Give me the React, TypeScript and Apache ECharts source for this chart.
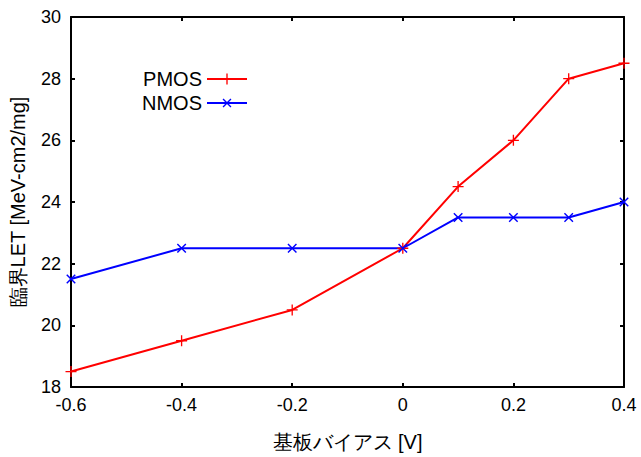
import React, { useEffect, useRef } from "react";
import * as echarts from "echarts";

const xValues = [-0.6, -0.4, -0.2, 0, 0.1, 0.2, 0.3, 0.4];
const pmosValues = [18.5, 19.5, 20.5, 22.5, 24.5, 26, 28, 28.5];
const nmosValues = [21.5, 22.5, 22.5, 22.5, 23.5, 23.5, 23.5, 24];
const seriesNames = ["PMOS", "NMOS"];
const xName = "基板バイアス [V]";
const yName = "臨界LET [MeV-cm2/mg]";

const plus = "path://M4.4,0h1.2v4.4h4.4v1.2h-4.4v4.4h-1.2v-4.4h-4.4v-1.2h4.4z";
const font = "Liberation Sans, Arial, sans-serif";

export default function App() {
  const ref = useRef<HTMLDivElement>(null);
  useEffect(() => {
    if (!ref.current) return;
    const chart = echarts.init(ref.current, null, { renderer: "svg" });
    const fmt = (v: number) => (Math.abs(v) < 1e-9 ? "0" : v.toFixed(1));
    const axisLine = { show: true, onZero: false, lineStyle: { color: "#000", width: 2 } };
    const tick = { show: true, inside: true, length: 4, lineStyle: { color: "#000", width: 2 } };
    chart.setOption({
      animation: false,
      backgroundColor: "#fff",
      textStyle: { fontFamily: font },
      grid: { left: 71, right: 17, top: 17, bottom: 65 },
      legend: {
        orient: "vertical",
        left: 137,
        top: 64,
        align: "right",
        itemWidth: 40,
        itemHeight: 14,
        itemGap: 4,
        textStyle: { fontSize: 20, color: "#000", fontFamily: font },
        data: seriesNames,
      },
      xAxis: [
        {
          type: "value",
          min: -0.6,
          max: 0.4,
          interval: 0.2,
          name: xName,
          nameLocation: "middle",
          nameGap: 45,
          nameTextStyle: { fontSize: 20, color: "#000", fontFamily: font },
          axisLine,
          axisTick: tick,
          splitLine: { show: false },
          axisLabel: { fontSize: 18, color: "#000", margin: 9, formatter: fmt },
        },
        {
          type: "value",
          position: "top",
          min: -0.6,
          max: 0.4,
          interval: 0.2,
          axisLine,
          axisTick: tick,
          splitLine: { show: false },
          axisLabel: { show: false },
        },
      ],
      yAxis: [
        {
          type: "value",
          min: 18,
          max: 30,
          interval: 2,
          name: yName,
          nameLocation: "middle",
          nameGap: 43,
          nameRotate: 90,
          nameTextStyle: { fontSize: 20, color: "#000", fontFamily: font },
          axisLine,
          axisTick: tick,
          splitLine: { show: false },
          axisLabel: { fontSize: 18, color: "#000", margin: 10 },
        },
        {
          type: "value",
          position: "right",
          min: 18,
          max: 30,
          interval: 2,
          axisLine,
          axisTick: tick,
          splitLine: { show: false },
          axisLabel: { show: false },
        },
      ],
      series: [
        {
          name: seriesNames[0],
          type: "line",
          data: xValues.map((x, i) => [x, pmosValues[i]]),
          symbol: plus,
          symbolSize: 11,
          color: "#ff0000",
          lineStyle: { width: 2, color: "#ff0000" },
          itemStyle: { color: "#ff0000" },
        },
        {
          name: seriesNames[1],
          type: "line",
          data: xValues.map((x, i) => [x, nmosValues[i]]),
          symbol: plus,
          symbolSize: 12,
          symbolRotate: 45,
          color: "#0000ff",
          lineStyle: { width: 2, color: "#0000ff" },
          itemStyle: { color: "#0000ff" },
        },
      ],
    });
    return () => chart.dispose();
  }, []);
  return <div ref={ref} style={{ width: 641, height: 457, position: "fixed", left: 0, top: 0 }} />;
}
